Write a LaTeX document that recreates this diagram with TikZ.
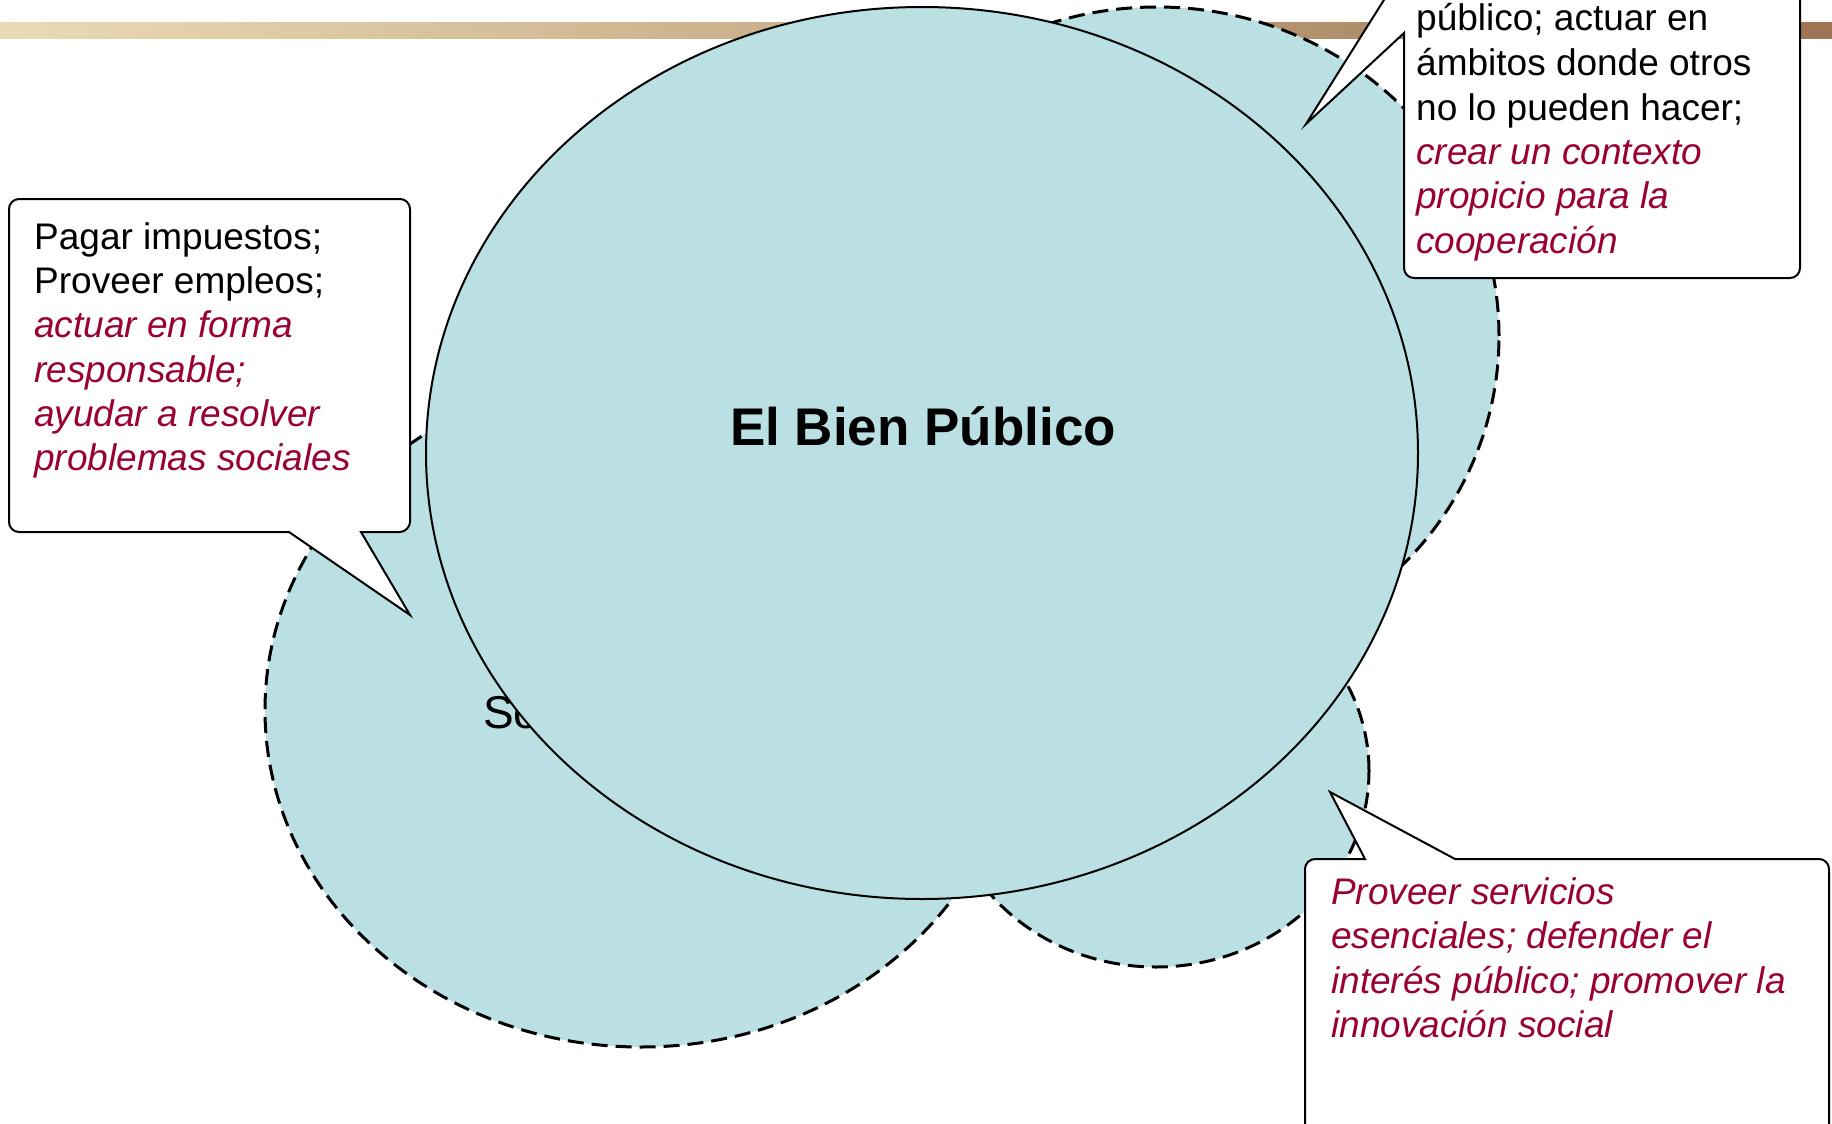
\documentclass[tikz,border=0pt]{standalone}
\usepackage{fontspec}
\setmainfont{Liberation Sans}
\usetikzlibrary{shapes.geometric}
\definecolor{fillc}{RGB}{186,224,227}
\definecolor{crim}{RGB}{153,0,51}
\definecolor{barL}{RGB}{234,219,181}
\definecolor{barR}{RGB}{158,116,82}
\begin{document}
\begin{tikzpicture}[x=1pt,y=-1pt,
  sector/.style={ellipse, draw=black, fill=fillc, line width=3pt, dash pattern=on 16pt off 8pt, inner sep=0pt, outer sep=0pt},
  core/.style={ellipse, draw=black, fill=fillc, line width=2pt, inner sep=0pt, outer sep=0pt},
  callout/.style={draw=black, fill=white, line width=2pt, line join=miter},
  plain/.style={font=\fontsize{37}{44}\selectfont, inner sep=0pt, anchor=base west, text=black},
  emphx/.style={plain, font=\fontsize{37}{44}\selectfont\itshape, text=crim}]
\useasboundingbox (0,0) rectangle (1832,1124);
\clip (0,0) rectangle (1832,1124);
% top bar
\shade[left color=barL, right color=barR] (0,23) rectangle (1832,39);
% sector ellipses
\node[sector, minimum width=752pt, minimum height=674pt] (socL) at (641,710) {};
\node[sector, minimum width=426pt, minimum height=392pt] (socR) at (1156,771) {};
\node[sector, minimum width=684pt, minimum height=658pt] (gov) at (1157,336) {};
\node[font=\fontsize{46}{52}\selectfont, inner sep=0pt, anchor=base west] (solbl) at (483,728) {So};
% main ellipse
\node[core, minimum width=992pt, minimum height=892pt] (bien) at (922,453) {};
\node[font=\fontsize{53}{60}\selectfont\bfseries, inner sep=0pt, anchor=base] (title) at (923,445) {El Bien Público};
% left callout
\draw[callout] (289,532) -- (410,615) -- (361,532) -- (400,532)
  .. controls (405.5,532) and (410,526.5) .. (410,522) -- (410,209)
  .. controls (410,203.5) and (405.5,199) .. (400,199) -- (19,199)
  .. controls (13.5,199) and (9,203.5) .. (9,209) -- (9,522)
  .. controls (9,527.5) and (13.5,532) .. (19,532) -- cycle;
\node[plain] (l1) at (34,249) {Pagar impuestos;};
\node[plain] (l2) at (34,293) {Proveer empleos;};
\node[emphx] (l3) at (34,337.5) {actuar en forma};
\node[emphx] (l4) at (34,382) {responsable;};
\node[emphx] (l5) at (34,426) {ayudar a resolver};
\node[emphx] (l6) at (34,470) {problemas sociales};
% top-right callout
\draw[callout] (1404,33) -- (1306,124) -- (1404,-32) -- (1404,-80) -- (1800,-80) -- (1800,268)
  .. controls (1800,273.5) and (1795.5,278) .. (1790,278) -- (1414,278)
  .. controls (1408.5,278) and (1404,273.5) .. (1404,268) -- cycle;
\node[plain] (r1) at (1416,31) {público; actuar en};
\node[plain] (r2) at (1416,75) {ámbitos donde otros};
\node[plain] (r3) at (1416,120) {no lo pueden hacer;};
\node[emphx] (r4) at (1416,164.5) {crear un contexto};
\node[emphx] (r5) at (1416,208.5) {propicio para la};
\node[emphx] (r6) at (1416,253) {cooperación};
% bottom-right callout
\draw[callout] (1365,859) -- (1330,792) -- (1455,859) -- (1819,859)
  .. controls (1824.5,859) and (1829,863.5) .. (1829,869) -- (1829,1200) -- (1305,1200) -- (1305,869)
  .. controls (1305,863.5) and (1309.5,859) .. (1315,859) -- cycle;
\node[emphx] (b1) at (1331,904) {Proveer servicios};
\node[emphx] (b2) at (1331,948.5) {esenciales; defender el};
\node[emphx] (b3) at (1331,993) {interés público; promover la};
\node[emphx] (b4) at (1331,1037.5) {innovación social};
\end{tikzpicture}
\end{document}
